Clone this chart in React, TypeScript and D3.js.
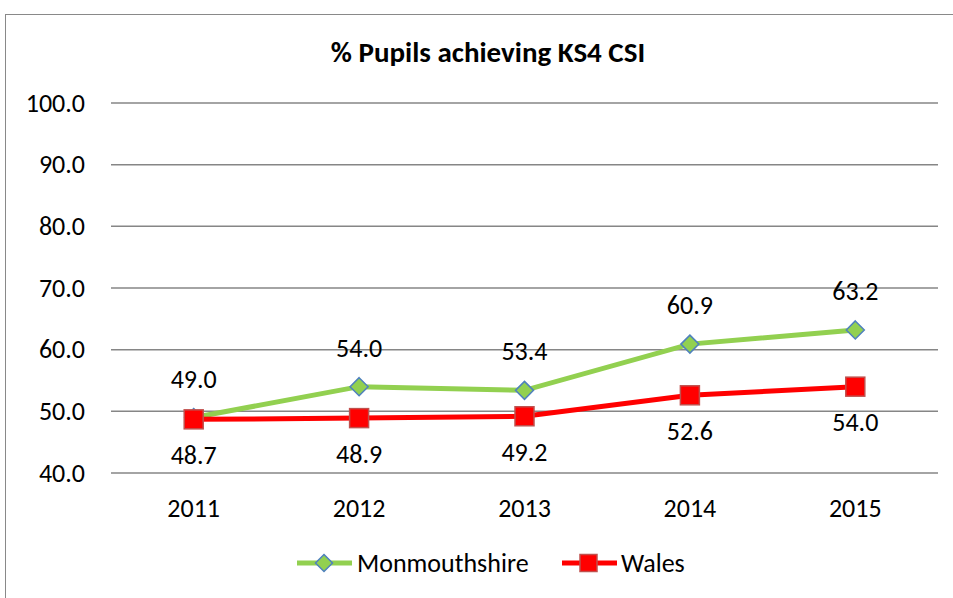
import React from "react";
import { scaleBand, scaleLinear, line } from "d3";

const years = ["2011", "2012", "2013", "2014", "2015"];
const monmouthshire = [49.0, 54.0, 53.4, 60.9, 63.2];
const wales = [48.7, 48.9, 49.2, 52.6, 54.0];
const yTicks = [40, 50, 60, 70, 80, 90, 100];

const W = 953;
const H = 598;
const FONT = "Calibri, Carlito, 'Noto Sans', 'Open Sans', sans-serif";

export default function App() {
  const x = scaleBand<string>().domain(years).range([111, 938]);
  const y = scaleLinear().domain([40, 100]).range([473, 103]);
  const cx = (i: number) => (x(years[i]) ?? 0) + x.bandwidth() / 2;

  const lineGen = line<number>()
    .x((_, i) => cx(i))
    .y((d) => y(d));

  // diamond marker path
  const diamond = (px: number, py: number, r: number) =>
    `M${px},${py - r}L${px + r},${py}L${px},${py + r}L${px - r},${py}Z`;

  return (
    <svg width={W} height={H} style={{ position: "absolute", left: 0, top: 0 }} fontFamily={FONT}>
      <rect x={0} y={0} width={W} height={H} fill="#fff" />
      <rect x={5.5} y={14.5} width={W + 10} height={H + 10} fill="none" stroke="#898989" strokeWidth={1} />

      <text x={488} y={62} textAnchor="middle" fontSize={29} fontWeight="bold" fill="#000">
        % Pupils achieving KS4 CSI
      </text>

      {yTicks.map((t) => (
        <g key={t}>
          <line x1={111} x2={938} y1={y(t)} y2={y(t)} stroke="#868686" strokeWidth={1.5} />
          <text x={85} y={y(t) + 8.5} textAnchor="end" fontSize={26} fill="#000">
            {t.toFixed(1)}
          </text>
        </g>
      ))}

      {years.map((yr, i) => (
        <text key={yr} x={cx(i)} y={517} textAnchor="middle" fontSize={26} fill="#000">
          {yr}
        </text>
      ))}

      <path d={lineGen(monmouthshire) ?? ""} fill="none" stroke="#92D050" strokeWidth={5} />
      <path d={lineGen(wales) ?? ""} fill="none" stroke="#FF0000" strokeWidth={5} />

      {monmouthshire.map((v, i) => (
        <g key={"m" + i}>
          <path d={diamond(cx(i), y(v), 9)} fill="#92D050" stroke="#4F81BD" strokeWidth={1.5} />
          <text x={cx(i)} y={y(v) - 30} textAnchor="middle" fontSize={26} fill="#000">
            {v.toFixed(1)}
          </text>
        </g>
      ))}

      {wales.map((v, i) => (
        <g key={"w" + i}>
          <rect x={cx(i) - 9.5} y={y(v) - 9.5} width={19} height={19} fill="#FF0000" stroke="#C0504D" strokeWidth={1.5} />
          <text x={cx(i)} y={y(v) + 44.5} textAnchor="middle" fontSize={26} fill="#000">
            {v.toFixed(1)}
          </text>
        </g>
      ))}

      <g>
        <line x1={297} x2={352} y1={563} y2={563} stroke="#92D050" strokeWidth={5} />
        <path d={diamond(324, 563, 8.5)} fill="#92D050" stroke="#4F81BD" strokeWidth={1.5} />
        <text x={357} y={572} fontSize={26} fill="#000">Monmouthshire</text>
        <line x1={562} x2={617} y1={563} y2={563} stroke="#FF0000" strokeWidth={5} />
        <rect x={580} y={554.5} width={17} height={17} fill="#FF0000" stroke="#C0504D" strokeWidth={1.5} />
        <text x={621} y={572} fontSize={26} fill="#000">Wales</text>
      </g>
    </svg>
  );
}
